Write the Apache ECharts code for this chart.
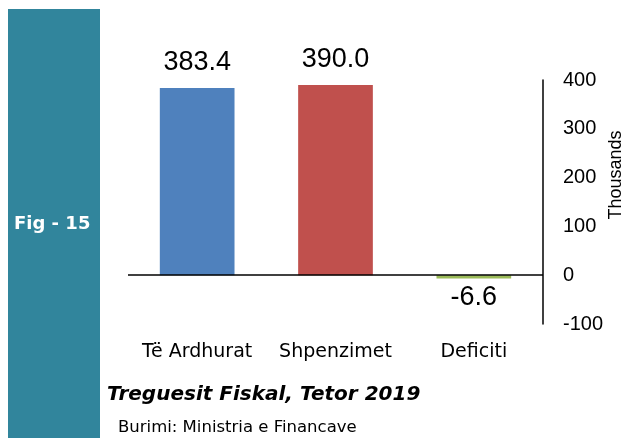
<!DOCTYPE html>
<html>
<head>
<meta charset="utf-8">
<script src="https://cdn.jsdelivr.net/npm/echarts@6/dist/echarts.min.js"></script>
<style>
  html, body { margin: 0; padding: 0; background: #fff; }
  #chart { width: 623px; height: 438px; }
</style>
</head>
<body>
<div id="chart"></div>
<script>
const categories = ["Të Ardhurat", "Shpenzimet", "Deficiti"];
const values = [383.4, 390.0, -6.6];
const colors = ["#4F81BD", "#C0504D", "#9BBB59"];
const yTicks = [-100, 0, 100, 200, 300, 400];

const chart = echarts.init(document.getElementById("chart"));

const barData = values.map((v, i) => ({
  value: v,
  itemStyle: { color: colors[i] },
  label: v < 0 ? { position: "bottom", distance: 6 } : { position: "top", distance: 12 }
}));

const option = {
  animation: false,
  grid: { left: 128, right: 80, top: 80, bottom: 114, outerBoundsMode: "none", containLabel: false },
  graphic: [
    { type: "rect", shape: { x: 8, y: 9, width: 92, height: 429 }, style: { fill: "#31859C" } },
    { type: "text", left: 14, top: 215,
      style: { text: "Fig - 15", fill: "#fff", font: "bold 18px 'DejaVu Sans'" } },
    { type: "text", left: 107, top: 385,
      style: { text: "Treguesit Fiskal, Tetor 2019", fill: "#000", font: "italic bold 20px 'DejaVu Sans'" } },
    { type: "text", left: 118, top: 419,
      style: { text: "Burimi: Ministria e Financave", fill: "#000", font: "16.5px 'DejaVu Sans'" } }
  ],
  xAxis: {
    type: "category",
    data: categories,
    axisLine: { show: false, onZero: false },
    axisTick: { show: false },
    axisLabel: { color: "#000", fontFamily: "DejaVu Sans", fontSize: 19, margin: 19, interval: 0 }
  },
  yAxis: {
    type: "value",
    position: "right",
    min: -100,
    max: 400,
    interval: 100,
    name: "Thousands",
    nameLocation: "middle",
    nameRotate: 90,
    nameGap: 64,
    nameMoveOverlap: false,
    nameTextStyle: { color: "#000", fontFamily: "Liberation Sans", fontSize: 18, padding: [0, 0, 0, 54] },
    axisLine: { show: true, lineStyle: { color: "#000", width: 1.5 } },
    axisTick: { show: false },
    splitLine: { show: false },
    axisLabel: {
      color: "#000", fontFamily: "Liberation Sans", fontSize: 20, margin: 20,
      formatter: v => yTicks.includes(v) ? String(v) : ""
    }
  },
  series: [{
    type: "bar",
    data: barData,
    barWidth: "54%",
    label: {
      show: true,
      color: "#000",
      fontFamily: "Liberation Sans",
      fontSize: 27,
      formatter: p => p.value.toFixed(1)
    },
    markLine: {
      silent: true,
      symbol: "none",
      label: { show: false },
      lineStyle: { color: "#000", width: 1.5, type: "solid" },
      data: [{ yAxis: 0 }]
    }
  }]
};

chart.setOption(option);
</script>
</body>
</html>
